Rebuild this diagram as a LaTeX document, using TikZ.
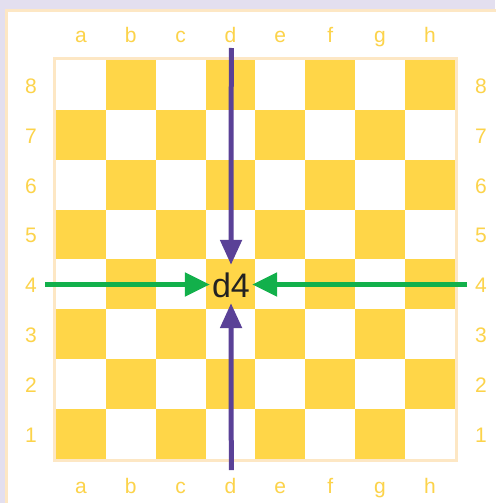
\documentclass[tikz,border=0pt]{standalone}
\usepackage{fontspec}
\setmainfont{Liberation Sans}
\usetikzlibrary{arrows.meta}
\definecolor{lav}{HTML}{E3DFEF}
\definecolor{peach}{HTML}{FDE7C4}
\definecolor{sqy}{HTML}{FFD648}
\definecolor{lbl}{HTML}{FCD34A}
\definecolor{purp}{HTML}{5A4197}
\definecolor{grn}{HTML}{12B04B}
\definecolor{txt}{HTML}{222222}
\tikzset{
  lab/.style={text=lbl, font=\fontsize{21}{25}\selectfont, anchor=base, inner sep=0pt},
  darksq/.style={fill=sqy, draw=none},
  vbar/.style={draw=purp, line width=5pt, -{Triangle[length=25pt,width=21pt]}},
  hbar/.style={draw=grn, line width=5pt, -{Triangle[length=25pt,width=23pt]}},
}
\begin{document}
\begin{tikzpicture}[x=1pt,y=-1pt]
\useasboundingbox (0,0) rectangle (495,503);
\fill[lav] (0,0) rectangle (495,503);
\draw[peach, line width=3pt, fill=white] (6.5,10.5) rectangle (520,530);
\draw[peach, line width=3pt] (54.5,58.5) rectangle (456.8,460.2);
\def\sq{49.85}
\foreach \c in {0,...,7}{
  \foreach \r in {0,...,7}{
    \pgfmathtruncatemacro{\parity}{mod(\c+\r,2)}
    \ifnum\parity=1
      \fill[darksq] ({56+\c*\sq},{60+\r*\sq}) rectangle ({56+(\c+1)*\sq},{60+(\r+1)*\sq});
    \fi
  }
}
\foreach \l [count=\i from 0] in {a,b,c,d,e,f,g,h}{
  \node[lab] (top\l) at ({56+(\i+0.5)*\sq},43) {\l};
  \node[lab] (bot\l) at ({56+(\i+0.5)*\sq},493) {\l};
}
\foreach \n in {1,...,8}{
  \node[lab] (left\n) at (31,{60+(8-\n+0.5)*\sq+8.5}) {\n};
  \node[lab] (right\n) at (481,{60+(8-\n+0.5)*\sq+8.5}) {\n};
}
\node[text=txt, font=\fontsize{34}{38}\selectfont, minimum width=\sq pt, minimum height=\sq pt, inner sep=0pt] (d4) at (231,285) {d4};
\coordinate (ptop) at (231.3,48);
\coordinate (pbot) at (231.3,470);
\coordinate (gl) at (45,284.5);
\coordinate (gr) at (467,284.5);
\draw[vbar] (ptop) -- ([yshift=-5pt]d4.north);
\draw[vbar] (pbot) -- ([yshift=7pt]d4.south);
\draw[hbar] (gl) -- ([xshift=4pt]d4.west |- gl);
\draw[hbar] (gr) -- ([xshift=-4pt]d4.east |- gr);
\end{tikzpicture}
\end{document}
